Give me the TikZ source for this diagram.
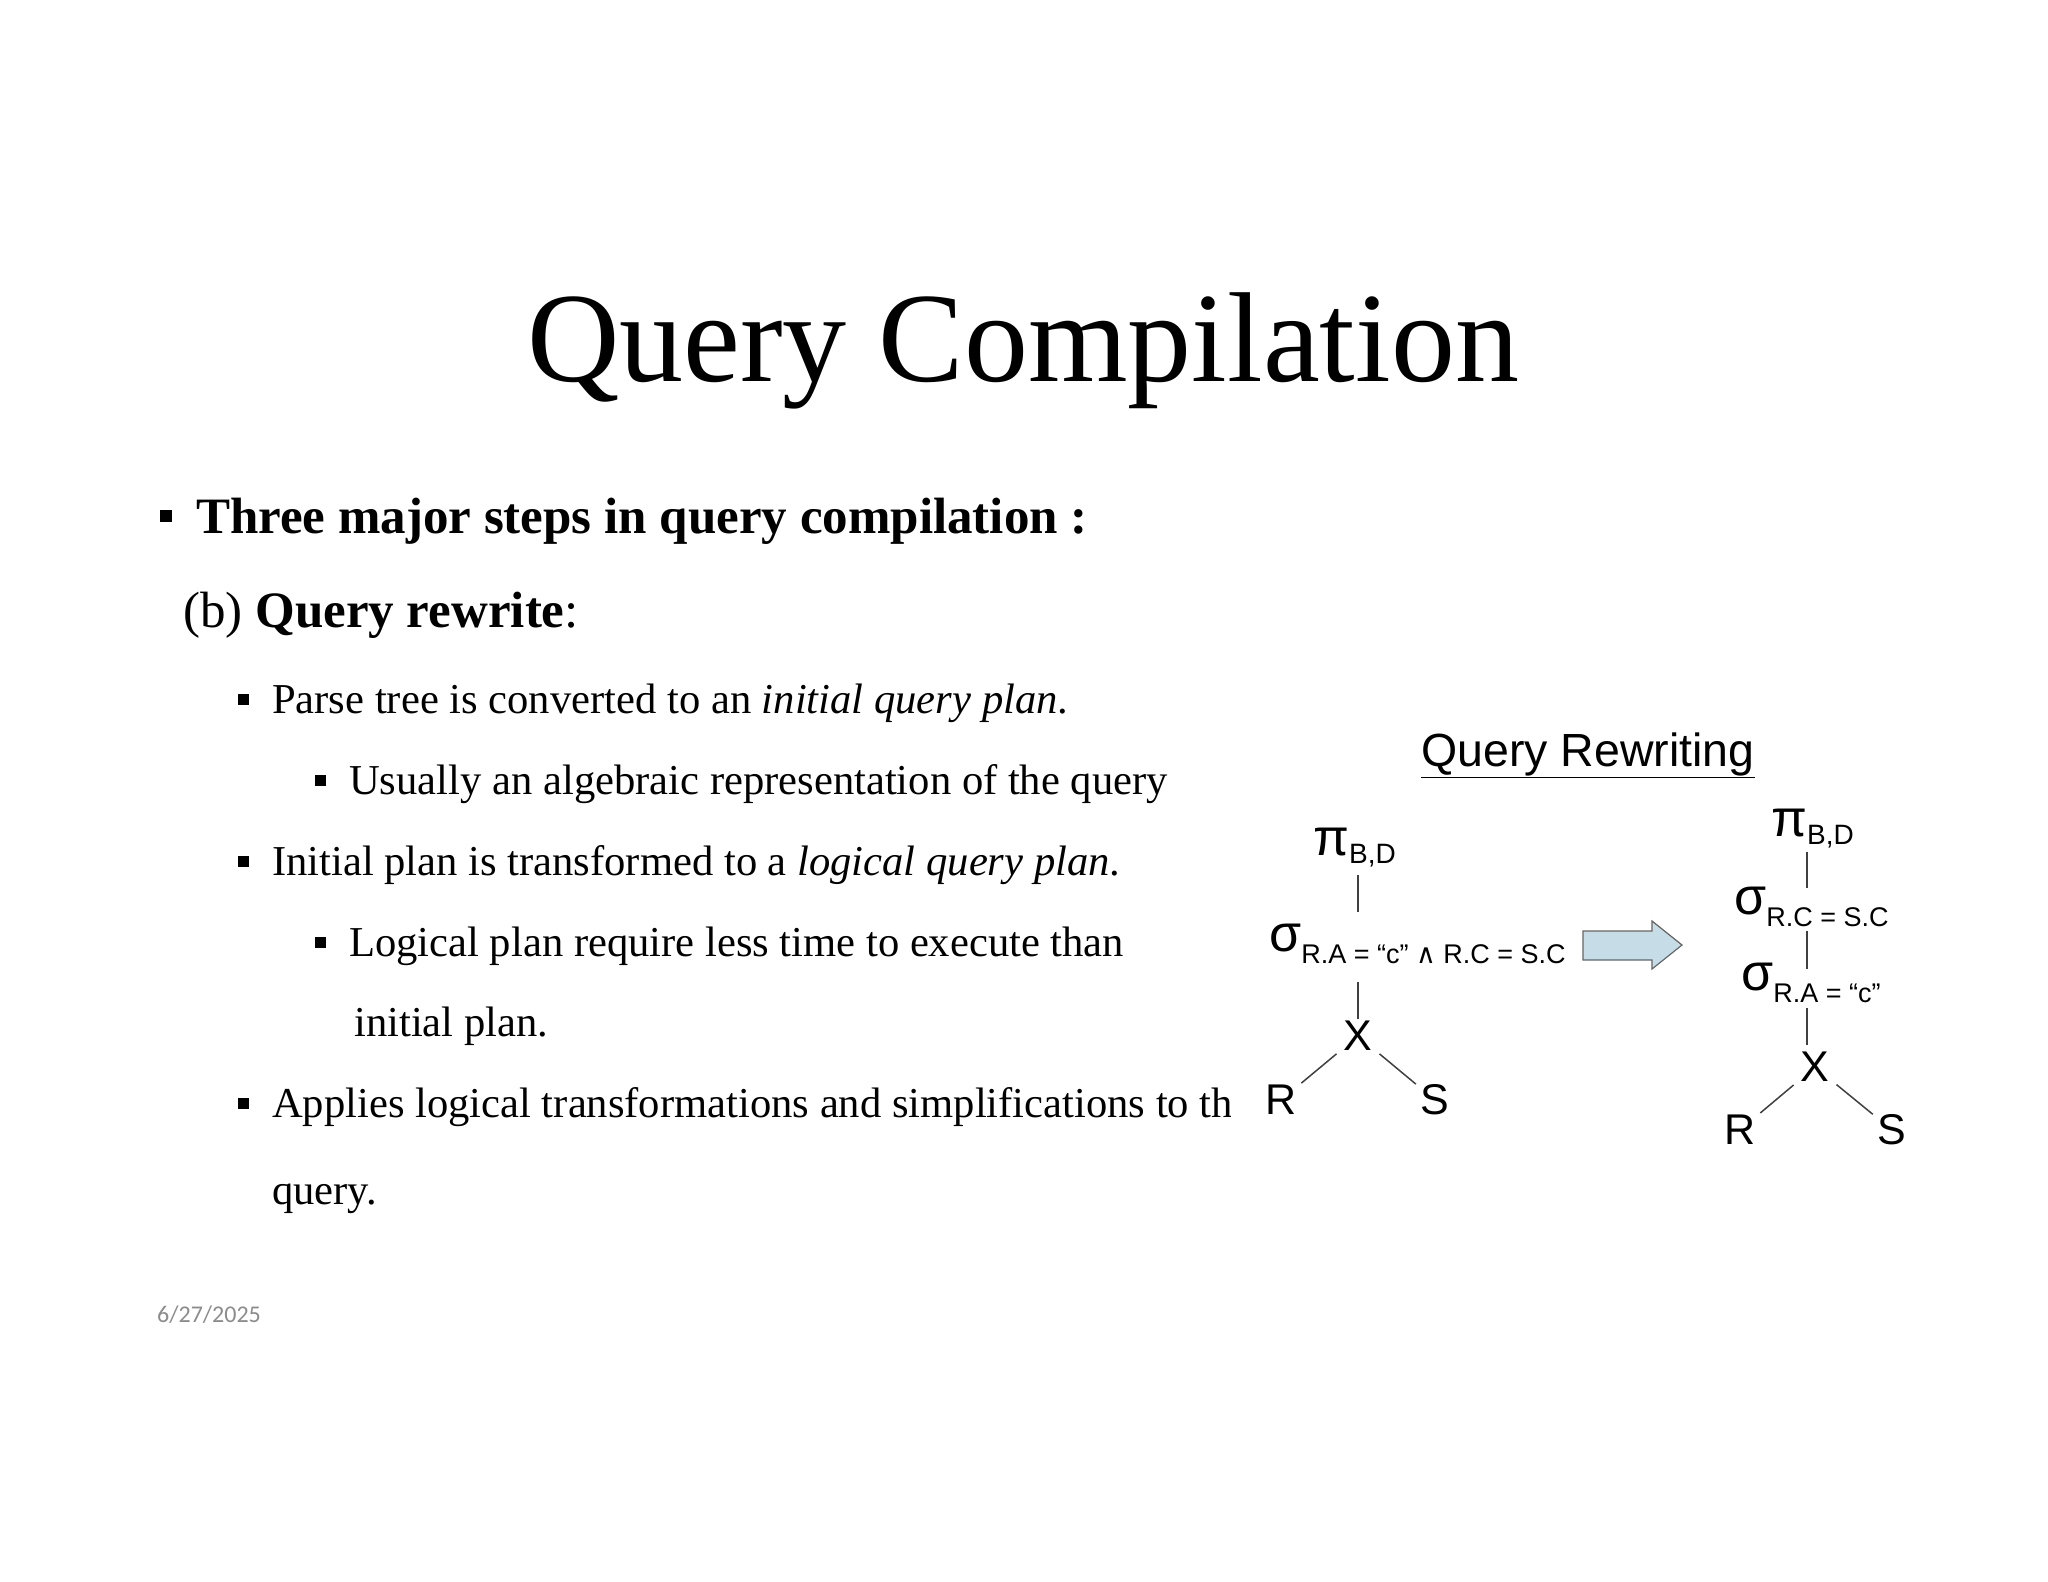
\documentclass[tikz,border=0pt]{standalone}
\usepackage{fontspec}
\setmainfont{Liberation Serif}
\newfontfamily\arial{Liberation Sans}
\newfontfamily\dvs{DejaVu Sans}
\newfontfamily\calfont{Carlito}
\begin{document}
\begin{tikzpicture}[x=1pt,y=-1pt,
  txt/.style={anchor=base west,inner sep=0pt},
  big/.style={txt,font=\fontsize{42.6}{50}\selectfont},
  tr/.style={inner sep=0pt,font=\arial\fontsize{43}{46}\selectfont},
  sg/.style={txt,font=\arial\fontsize{52}{56}\selectfont},
  edge/.style={draw=black!75,line width=1.5pt},
  diag/.style={edge,shorten <=9pt,shorten >=6pt},
  bul/.style={anchor=base west,inner sep=0pt}]
\path[use as bounding box,fill=white] (0,0) rectangle (2048,1582);
\node[anchor=base,inner sep=0pt,font=\fontsize{128}{132}\selectfont] (title) at (1023,381) {Query Compilation};
\node[bul] (b0) at (160,522) {\rule{12pt}{12pt}};
\node[txt,font=\bfseries\fontsize{51}{60}\selectfont] (t0) at (196,533) {Three major steps in query compilation :};
\node[txt,font=\fontsize{51}{60}\selectfont] (t1) at (183,627) {(b) \textbf{Query rewrite}:};
\node[bul] (b1) at (238,705) {\rule{11pt}{11pt}};
\node[big] (t2) at (272,713) {Parse tree is converted to an \textit{initial query plan}.};
\node[bul] (b2) at (315,786) {\rule{11pt}{11pt}};
\node[big] (t3) at (349,794) {Usually an algebraic representation of the query};
\node[bul] (b3) at (238,867) {\rule{11pt}{11pt}};
\node[big] (t4) at (272,875) {Initial plan is transformed to a \textit{logical query plan}.};
\node[bul] (b4) at (315,948) {\rule{11pt}{11pt}};
\node[big] (t5) at (349,956) {Logical plan require less time to execute than};
\node[big] (t6) at (354,1036) {initial plan.};
\node[bul] (b5) at (238,1109) {\rule{11pt}{11pt}};
\begin{scope}
\clip (0,1050) rectangle (1230,1140);
\node[big] (t7) at (272,1117) {Applies logical transformations and simplifications to the};
\end{scope}
\node[big] (t8) at (272,1204) {query.};
\node[txt,font=\calfont\fontsize{24}{28}\selectfont,text=black!45] (date) at (157,1322) {6/27/2025};
% diagram
\node[txt,font=\arial\fontsize{46.5}{52}\selectfont] (dt) at (1421,766) {\underline{Query Rewriting}};
% left tree
\node[sg] (p1) at (1313,855) {π\raisebox{-8pt}{\fontsize{28}{30}\selectfont B,D}};
\node[sg] (s1) at (1269,951) {σ\raisebox{-12pt}{\fontsize{27}{30}\selectfont R.A = “c” {\dvs∧} R.C = S.C}};
\node[tr] (x1) at (1358,1036) {X};
\node[tr] (r1) at (1281,1100) {R};
\node[tr] (q1) at (1435,1100) {S};
\draw[edge] (1358,875) -- (1358,912);
\draw[edge] (1358,982) -- (1358,1019);
\draw[diag] (x1) -- (r1);
\draw[diag] (x1) -- (q1);
% arrow
\draw[draw=black!60,fill=cyan!20!teal!25,line width=1.2pt] (1583,931) -- (1652,931) -- (1652,921) -- (1682,945) -- (1652,969) -- (1652,960) -- (1583,960) -- cycle;
% right tree
\node[sg] (p2) at (1771,836) {π\raisebox{-8pt}{\fontsize{28}{30}\selectfont B,D}};
\node[sg] (s2) at (1734,914) {σ\raisebox{-12pt}{\fontsize{27}{30}\selectfont R.C = S.C}};
\node[sg] (s3) at (1741,990) {σ\raisebox{-12pt}{\fontsize{27}{30}\selectfont R.A = “c”}};
\node[tr] (x2) at (1815,1067) {X};
\node[tr] (r2) at (1740,1130) {R};
\node[tr] (q2) at (1892,1130) {S};
\draw[edge] (1807,852) -- (1807,888);
\draw[edge] (1807,931) -- (1807,969);
\draw[edge] (1807,1008) -- (1807,1045);
\draw[diag] (x2) -- (r2);
\draw[diag] (x2) -- (q2);
\end{tikzpicture}
\end{document}
